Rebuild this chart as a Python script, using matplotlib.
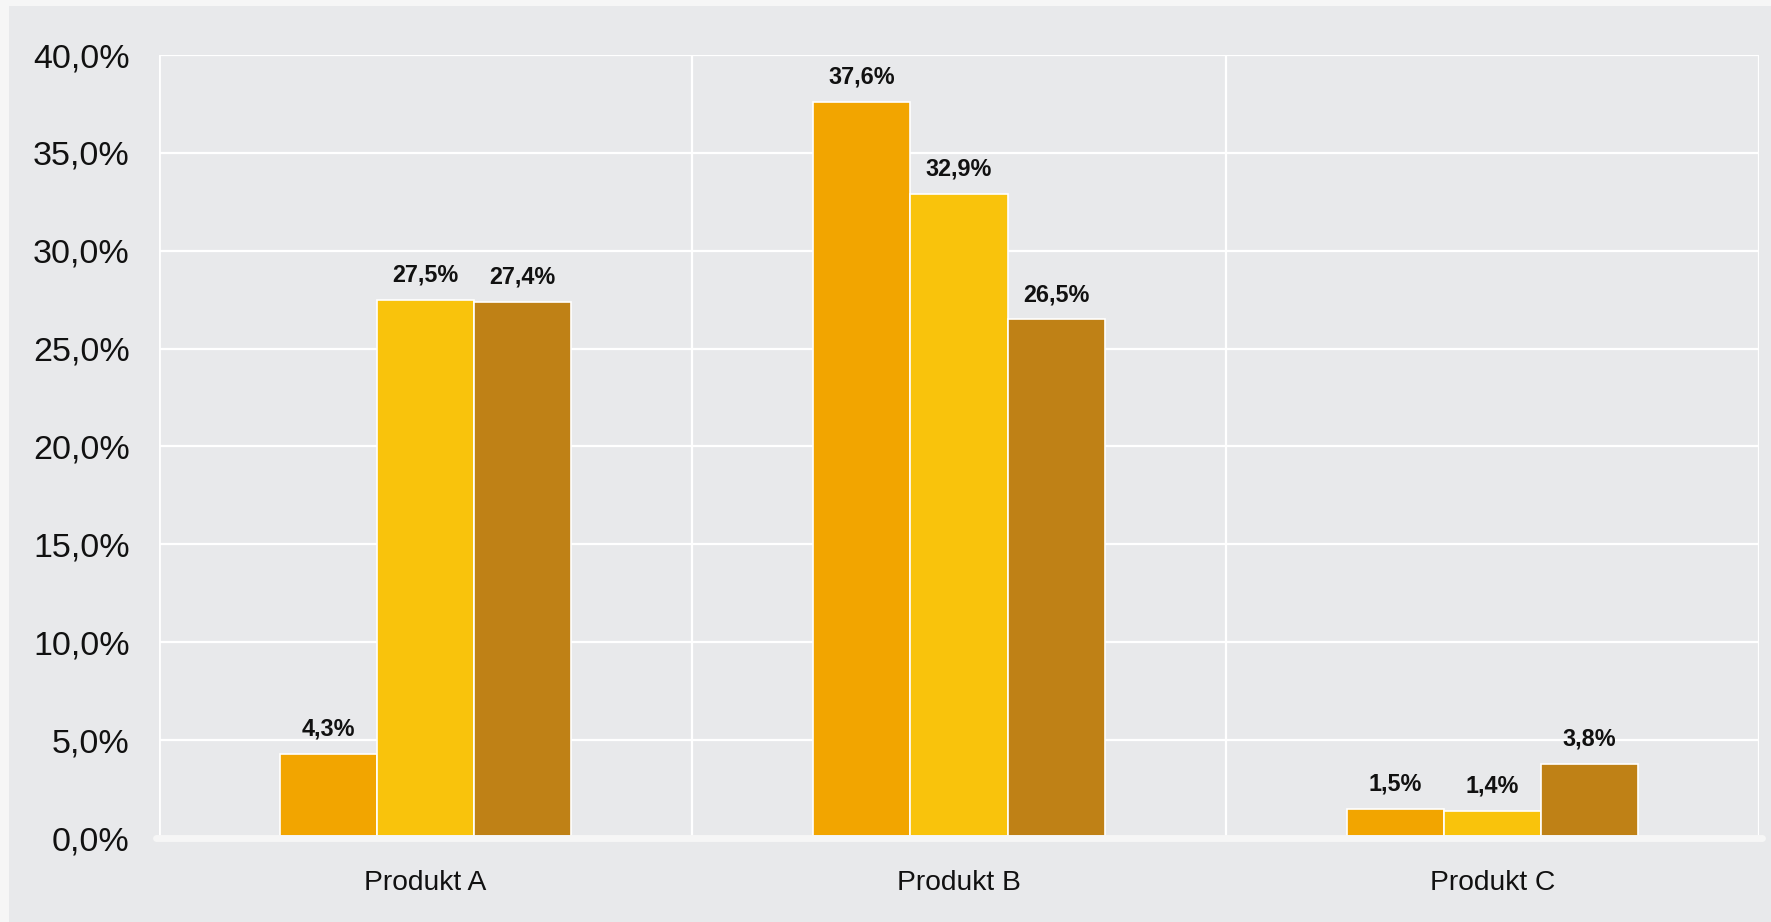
import numpy as np
import matplotlib
matplotlib.use("Agg")
import matplotlib.pyplot as plt
from matplotlib.patches import Rectangle

# data
categories = ['Produkt A', 'Produkt B', 'Produkt C']
series_1 = [4.3, 37.6, 1.5]
series_2 = [27.5, 32.9, 1.4]
series_3 = [27.4, 26.5, 3.8]
y_ticks = [0, 5, 10, 15, 20, 25, 30, 35, 40]

colors = ['#F2A500', '#F9C30C', '#BF8116']
panel = '#E8E9EB'

plt.rcParams['font.family'] = ['Liberation Sans', 'DejaVu Sans']

fig = plt.figure(figsize=(17.71, 9.22), dpi=100, facecolor=panel)
# light outer border on top and left
fig.patches.append(Rectangle((0, 1 - 6 / 922), 1, 6 / 922, transform=fig.transFigure,
                             facecolor='#F6F6F6', edgecolor='none', zorder=-1))
fig.patches.append(Rectangle((0, 0), 9 / 1771, 1, transform=fig.transFigure,
                             facecolor='#F6F6F6', edgecolor='none', zorder=-1))

ax = fig.add_axes([159 / 1771, 84 / 922, 1600 / 1771, 783 / 922])
ax.set_facecolor(panel)

x = np.arange(len(categories))
w = 0.182
for i, (vals, c) in enumerate(zip([series_1, series_2, series_3], colors)):
    bars = ax.bar(x + (i - 1) * w, vals, width=w, color=c, edgecolor='white',
                  linewidth=1.2, zorder=3)
    for b, v in zip(bars, vals):
        ax.annotate(f'{v:.1f}%'.replace('.', ','),
                    (b.get_x() + b.get_width() / 2, v),
                    xytext=(0, 9.5), textcoords='offset points',
                    ha='center', va='bottom', fontsize=16.8, fontweight='bold',
                    color='#111111', zorder=4)

ax.set_xlim(-0.5, 2.5)
ax.set_ylim(0, 40)
ax.set_yticks(y_ticks)
ax.set_yticklabels([f'{t:.1f}%'.replace('.', ',') for t in y_ticks])
ax.set_xticks(x)
ax.set_xticklabels(categories)

# grid: horizontal lines at ticks, vertical lines at category boundaries
for t in y_ticks[1:]:
    ax.axhline(t, color='white', linewidth=1.6, zorder=1)
for b in [0.5, 1.5, 2.5]:
    ax.axvline(b, color='white', linewidth=1.6, zorder=1)
ax.axvline(-0.5, color='white', linewidth=2, zorder=1)
ax.plot([-0.505, 2.505], [0, 0], color='#F6F6F6', linewidth=5,
        solid_capstyle='round', zorder=5, clip_on=False)

for s in ax.spines.values():
    s.set_visible(False)
ax.tick_params(axis='y', length=0, pad=21, labelsize=24.5, labelcolor='#111111')
ax.tick_params(axis='x', length=0, pad=23, labelsize=20.3, labelcolor='#111111')

fig.savefig('out.png', dpi=100, facecolor=fig.get_facecolor())
